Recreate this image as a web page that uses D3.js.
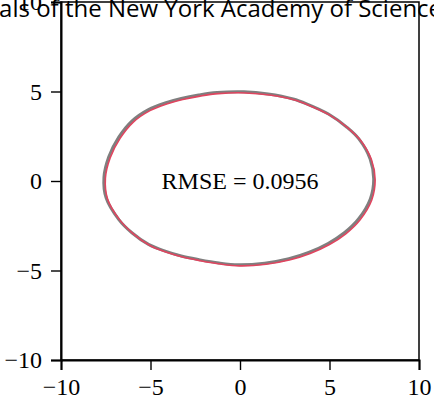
<!DOCTYPE html>
<html>
<head>
<meta charset="utf-8">
<script src="https://cdn.jsdelivr.net/npm/d3@7"></script>
<style>
  html, body { margin: 0; padding: 0; background: #fff; }
  svg { display: block; }
</style>
</head>
<body>
<script>
const fitX = [7.55, 7.35, 6.72, 6.04, 5.02, 3.80, 3.05, 1.65, 0.30, -1.20, -2.23, -3.20, -4.10, -5.03, -5.96, -6.70, -7.25, -7.52, -7.40, -6.70, -5.96, -5.03, -4.10, -3.20, -2.23, -1.10, 0.00, 1.46, 2.81, 3.92, 5.00, 5.91, 6.70, 7.36];
const fitY = [0.05, 1.17, 2.29, 2.95, 3.68, 4.25, 4.52, 4.80, 4.92, 4.88, 4.74, 4.55, 4.30, 3.93, 3.29, 2.38, 1.30, 0.15, -1.00, -2.20, -2.95, -3.60, -3.98, -4.25, -4.45, -4.64, -4.74, -4.65, -4.40, -4.05, -3.55, -2.95, -2.18, -1.06];
const dataX = [7.47, 7.27, 6.64, 5.96, 4.94, 3.72, 2.97, 1.57, 0.22, -1.28, -2.31, -3.28, -4.18, -5.11, -6.04, -6.78, -7.33, -7.60, -7.48, -6.78, -6.04, -5.11, -4.18, -3.28, -2.31, -1.18, -0.08, 1.38, 2.73, 3.84, 4.92, 5.83, 6.62, 7.28];
const dataY = [0.11, 1.23, 2.35, 3.01, 3.74, 4.31, 4.58, 4.86, 4.98, 4.94, 4.80, 4.61, 4.36, 3.99, 3.35, 2.44, 1.36, 0.21, -0.94, -2.14, -2.89, -3.54, -3.92, -4.19, -4.39, -4.58, -4.68, -4.59, -4.34, -3.99, -3.49, -2.89, -2.12, -1.00];
const xTicks = [-10, -5, 0, 5, 10];
const yTicks = [-10, -5, 0, 5, 10];
const title = "Annals of the New York Academy of Sciences";
const rmseLabel = "RMSE = 0.0956";

const width = 434, height = 406;
const margin = { top: 2, right: 15, bottom: 46, left: 61 };

const x = d3.scaleLinear().domain([-10, 10]).range([margin.left, width - margin.right]);
const y = d3.scaleLinear().domain([-10, 10]).range([height - margin.bottom, margin.top]);

const svg = d3.select("body").append("svg")
  .attr("width", width)
  .attr("height", height);

const line = d3.line()
  .x(d => x(d[0]))
  .y(d => y(d[1]))
  .curve(d3.curveCatmullRomClosed);

// gray data curve underneath, red fit on top
svg.append("path")
  .attr("d", line(dataX.map((v, i) => [v, dataY[i]])))
  .attr("fill", "none")
  .attr("stroke", "#7f7f7f")
  .attr("stroke-width", 3);

svg.append("path")
  .attr("d", line(fitX.map((v, i) => [v, fitY[i]])))
  .attr("fill", "none")
  .attr("stroke", "#e0455f")
  .attr("stroke-width", 1.6);

svg.append("text")
  .attr("x", x(0))
  .attr("y", y(0))
  .attr("dy", "0.35em")
  .attr("text-anchor", "middle")
  .attr("font-family", "'Liberation Serif', 'Times New Roman', serif")
  .attr("font-size", 24)
  .text(rmseLabel);

// frame
svg.append("rect")
  .attr("x", x(-10))
  .attr("y", y(10))
  .attr("width", x(10) - x(-10))
  .attr("height", y(-10) - y(10))
  .attr("fill", "none")
  .attr("stroke", "#000")
  .attr("stroke-width", 1.5);

const xAxis = svg.append("g")
  .attr("transform", `translate(0,${y(-10)})`)
  .call(d3.axisBottom(x).tickValues(xTicks).tickSize(10).tickPadding(8));

const yAxis = svg.append("g")
  .attr("transform", `translate(${x(-10)},0)`)
  .call(d3.axisLeft(y).tickValues(yTicks).tickSize(10).tickPadding(9));

[xAxis, yAxis].forEach(g => {
  g.select(".domain").attr("stroke-width", 2);
  g.selectAll(".tick line").attr("stroke-width", 1.4);
  g.selectAll(".tick text")
    .attr("font-family", "'Liberation Serif', 'Times New Roman', serif")
    .attr("font-size", 24)
    .attr("fill", "#000");
});

svg.append("text")
  .attr("x", 204)
  .attr("y", 16.7)
  .attr("text-anchor", "middle")
  .attr("font-family", "'Open Sans', sans-serif")
  .attr("font-size", 24)
  .attr("fill", "#000")
  .text(title);
</script>
</body>
</html>
